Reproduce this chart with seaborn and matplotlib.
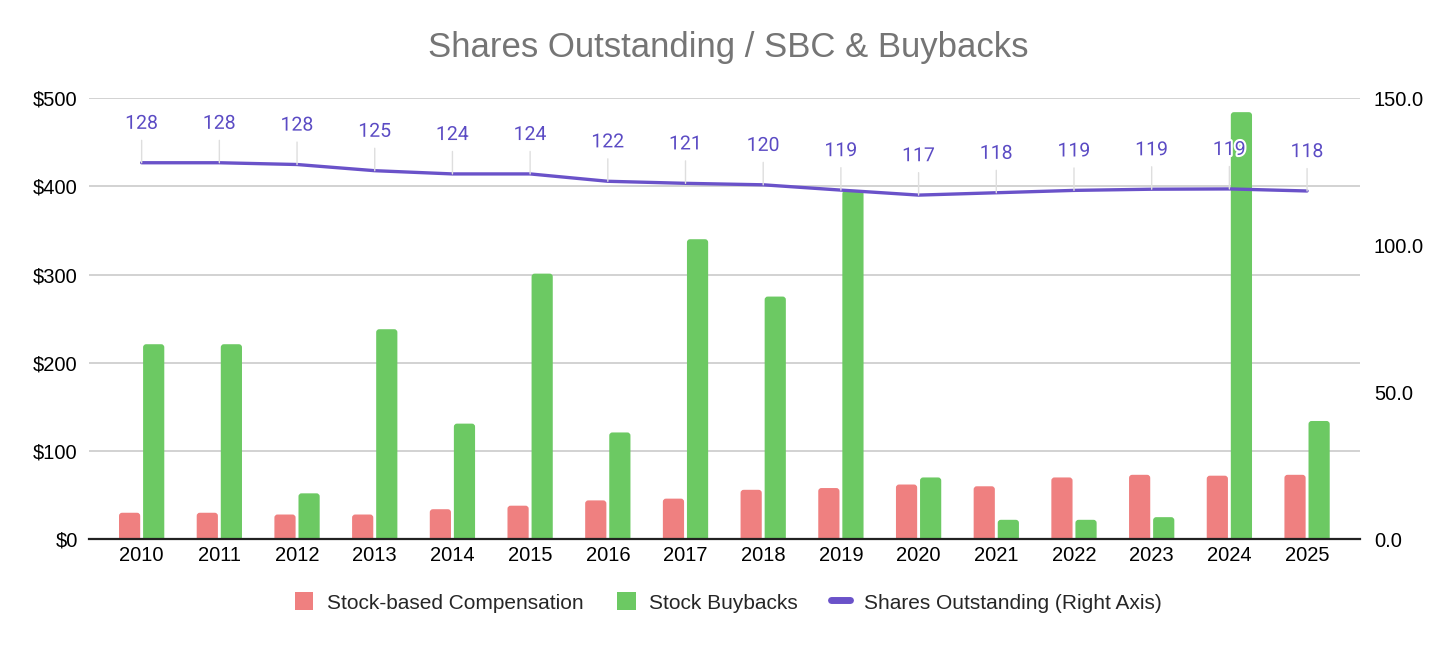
import pandas as pd
import matplotlib
matplotlib.use("Agg")
import matplotlib.pyplot as plt
import matplotlib.patheffects as pe
from matplotlib.patches import Patch, FancyBboxPatch
from matplotlib.lines import Line2D
from matplotlib.ticker import FuncFormatter, MultipleLocator
import seaborn as sns
import numpy as np

# values
years = ['2010', '2011', '2012', '2013', '2014', '2015', '2016', '2017',
         '2018', '2019', '2020', '2021', '2022', '2023', '2024', '2025']
sbc = [30, 30, 28, 28, 34, 38, 44, 46, 56, 58, 62, 60, 70, 73, 72, 73]
buybacks = [221, 221, 52, 238, 131, 301, 121, 340, 275, 395, 70, 22, 22, 25, 484, 134]
shares = [128.0, 128.0, 127.4, 125.3, 124.2, 124.2, 121.7, 121.0, 120.5,
          118.7, 117.0, 117.8, 118.6, 119.0, 119.1, 118.4]
share_labels = ['128', '128', '128', '125', '124', '124', '122', '121', '120',
                '119', '117', '118', '119', '119', '119', '118']

series_names = ['Stock-based Compensation', 'Stock Buybacks']
line_name = 'Shares Outstanding (Right Axis)'
title = 'Shares Outstanding / SBC & Buybacks'

RED = '#ef8080'
GREEN = '#6cc963'
PURPLE = '#6a52c9'
LABEL_PURPLE = '#5b4bc4'

df = pd.DataFrame({
    'Year': years * 2,
    'Series': [series_names[0]] * len(years) + [series_names[1]] * len(years),
    'Value': sbc + buybacks,
})

sns.set_theme(style="white")
plt.rcParams['font.family'] = ['Liberation Sans', 'DejaVu Sans']

fig = plt.figure(figsize=(14.56, 6.45), dpi=100)
ax = fig.add_axes([0.061, 0.164, 0.873, 0.684])

sns.barplot(data=df, x='Year', y='Value', hue='Series', hue_order=series_names,
            palette={series_names[0]: RED, series_names[1]: GREEN},
            width=0.62, gap=0.12, linewidth=0, saturation=1, ax=ax, zorder=2)

ax.set_ylim(0, 500)
ax.set_xlim(-0.68, len(years) - 0.32)

# give the bars slightly rounded tops (bottom corners pushed below zero and clipped)
x_px = ax.bbox.width / (ax.get_xlim()[1] - ax.get_xlim()[0])
y_px = ax.bbox.height / (ax.get_ylim()[1] - ax.get_ylim()[0])
for bar in list(ax.patches):
    x0, w, h = bar.get_x(), bar.get_width(), bar.get_height()
    if h <= 0:
        continue
    rounded = FancyBboxPatch((x0, -6), w, h + 6,
                             boxstyle="round,pad=0,rounding_size=0.04",
                             mutation_aspect=x_px / y_px,
                             facecolor=bar.get_facecolor(), edgecolor='none',
                             zorder=2, clip_on=True)
    ax.add_patch(rounded)
    bar.set_visible(False)

ax.yaxis.set_major_locator(MultipleLocator(100))
ax.yaxis.set_major_formatter(FuncFormatter(lambda v, p: f'${v:.0f}'))
ax.grid(axis='y', color='#c6c6c6', linewidth=1.1)
ax.set_axisbelow(True)
ax.set_xlabel('')
ax.set_ylabel('')
for s in ['top', 'right', 'left']:
    ax.spines[s].set_visible(False)
ax.spines['bottom'].set_color('#222222')
ax.spines['bottom'].set_linewidth(1.6)
ax.spines['bottom'].set_zorder(5)
ax.tick_params(axis='both', length=0, labelsize=14.5, colors='black')
ax.tick_params(axis='x', pad=5)
ax.tick_params(axis='y', pad=8)
if ax.get_legend() is not None:
    ax.get_legend().remove()

# right axis: shares outstanding
ax2 = ax.twinx()
sns.lineplot(x=np.arange(len(years)), y=shares, color=PURPLE, linewidth=2.4,
             ax=ax2, zorder=4)
ax2.set_ylim(0, 150)
ax2.yaxis.set_major_locator(MultipleLocator(50))
ax2.yaxis.set_major_formatter(FuncFormatter(lambda v, p: f'{v:.1f}'))
ax2.tick_params(axis='y', length=0, labelsize=14.5, colors='black', pad=10)
ax2.grid(False)
for s in ['top', 'right', 'left', 'bottom']:
    ax2.spines[s].set_visible(False)
ax2.set_xlim(ax.get_xlim())

for i, (v, lab) in enumerate(zip(shares, share_labels)):
    ax2.annotate(lab, xy=(i, v), xytext=(0, 28), textcoords='offset points',
                 ha='center', va='center', fontsize=14, color=LABEL_PURPLE,
                 family=['Roboto', 'DejaVu Sans'], zorder=6,
                 path_effects=[pe.withStroke(linewidth=3, foreground='white')],
                 arrowprops=dict(arrowstyle='-', color='#dedede', lw=1,
                                 shrinkA=3, shrinkB=0))

fig.text(0.5, 0.927, title, ha='center', va='center', fontsize=25, color='#757575')

handles = [Patch(facecolor=RED, edgecolor='none'),
           Patch(facecolor=GREEN, edgecolor='none'),
           Line2D([0], [0], color=PURPLE, linewidth=5)]
fig.legend(handles, series_names + [line_name], loc='center',
           bbox_to_anchor=(0.5, 0.066), ncol=3, frameon=False, fontsize=15,
           handlelength=0.9, handleheight=0.95, handletextpad=0.65,
           columnspacing=1.6)

fig.savefig('out.png', dpi=100)
